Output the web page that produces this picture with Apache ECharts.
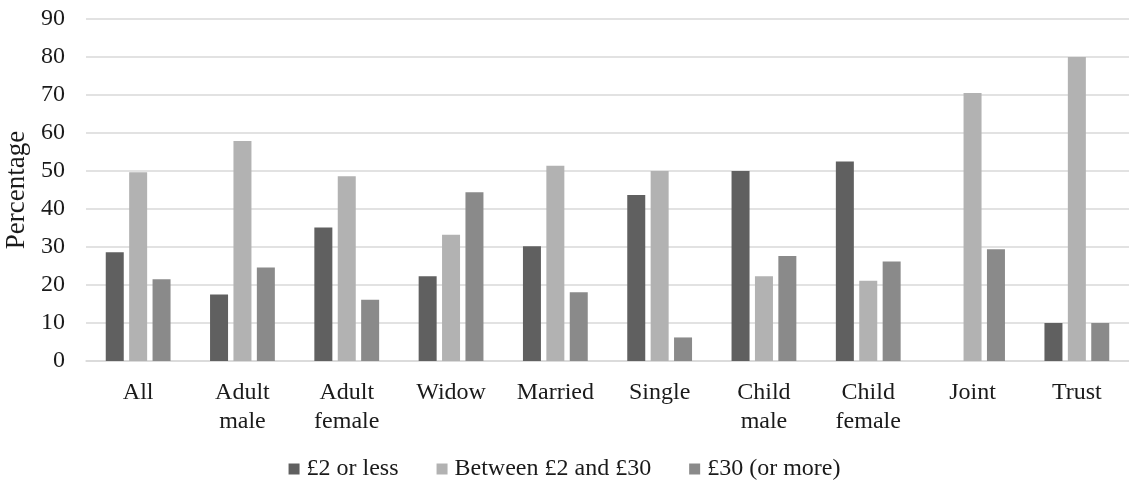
<!DOCTYPE html>
<html>
<head>
<meta charset="utf-8">
<script src="https://cdn.jsdelivr.net/npm/echarts@6/dist/echarts.min.js"></script>
<style>
  html, body { margin: 0; padding: 0; background: #fff; }
  #chart { width: 1129px; height: 482px; }
</style>
</head>
<body>
<div id="chart"></div>
<script>
// categories and values
let categories = ['All', 'Adult\nmale', 'Adult\nfemale', 'Widow', 'Married', 'Single', 'Child\nmale', 'Child\nfemale', 'Joint', 'Trust'];
let lowValues = [28.6, 17.5, 35.1, 22.3, 30.2, 43.7, 50.0, 52.5, 0, 10.0];
let midValues = [49.7, 57.9, 48.6, 33.2, 51.4, 50.0, 22.3, 21.1, 70.5, 80.0];
let highValues = [21.5, 24.6, 16.1, 44.4, 18.1, 6.2, 27.6, 26.2, 29.4, 10.0];
let seriesNames = ['£2 or less', 'Between £2 and £30', '£30 (or more)'];

let font = '"Liberation Serif", "Times New Roman", serif';
let textColor = '#1a1a1a';

let option = {
    animation: false,
    textStyle: { fontFamily: font },
    grid: {
        left: 86,
        right: 0,
        top: 19,
        bottom: 121,
        outerBoundsMode: 'none'
    },
    legend: {
        data: seriesNames,
        bottom: 0,
        left: 'center',
        padding: [5, 5, 1, 5],
        icon: 'rect',
        itemWidth: 11,
        itemHeight: 11,
        itemGap: 38,
        textStyle: { fontFamily: font, fontSize: 24, color: textColor, padding: [0, 0, 0, 2] }
    },
    xAxis: {
        type: 'category',
        data: categories,
        axisTick: { show: false },
        axisLine: { lineStyle: { color: '#d9d9d9', width: 1.5 } },
        axisLabel: {
            interval: 0,
            margin: 17,
            fontFamily: font,
            fontSize: 24,
            lineHeight: 29,
            color: textColor
        }
    },
    yAxis: {
        type: 'value',
        min: 0,
        max: 90,
        interval: 10,
        name: 'Percentage',
        nameLocation: 'middle',
        nameGap: 51,
        nameTextStyle: { fontFamily: font, fontSize: 27, color: textColor },
        axisLine: { show: false },
        axisTick: { show: false },
        axisLabel: { margin: 21, fontFamily: font, fontSize: 24, color: textColor },
        splitLine: { lineStyle: { color: '#d9d9d9', width: 1.5 } }
    },
    series: [
        { name: seriesNames[0], type: 'bar', data: lowValues, barWidth: 18, barGap: '30%', itemStyle: { color: '#606060' } },
        { name: seriesNames[1], type: 'bar', data: midValues, barWidth: 18, barGap: '30%', itemStyle: { color: '#b2b2b2' } },
        { name: seriesNames[2], type: 'bar', data: highValues, barWidth: 18, barGap: '30%', itemStyle: { color: '#8a8a8a' } }
    ]
};

let myChart = echarts.init(document.getElementById('chart'));
myChart.setOption(option);
</script>
</body>
</html>
